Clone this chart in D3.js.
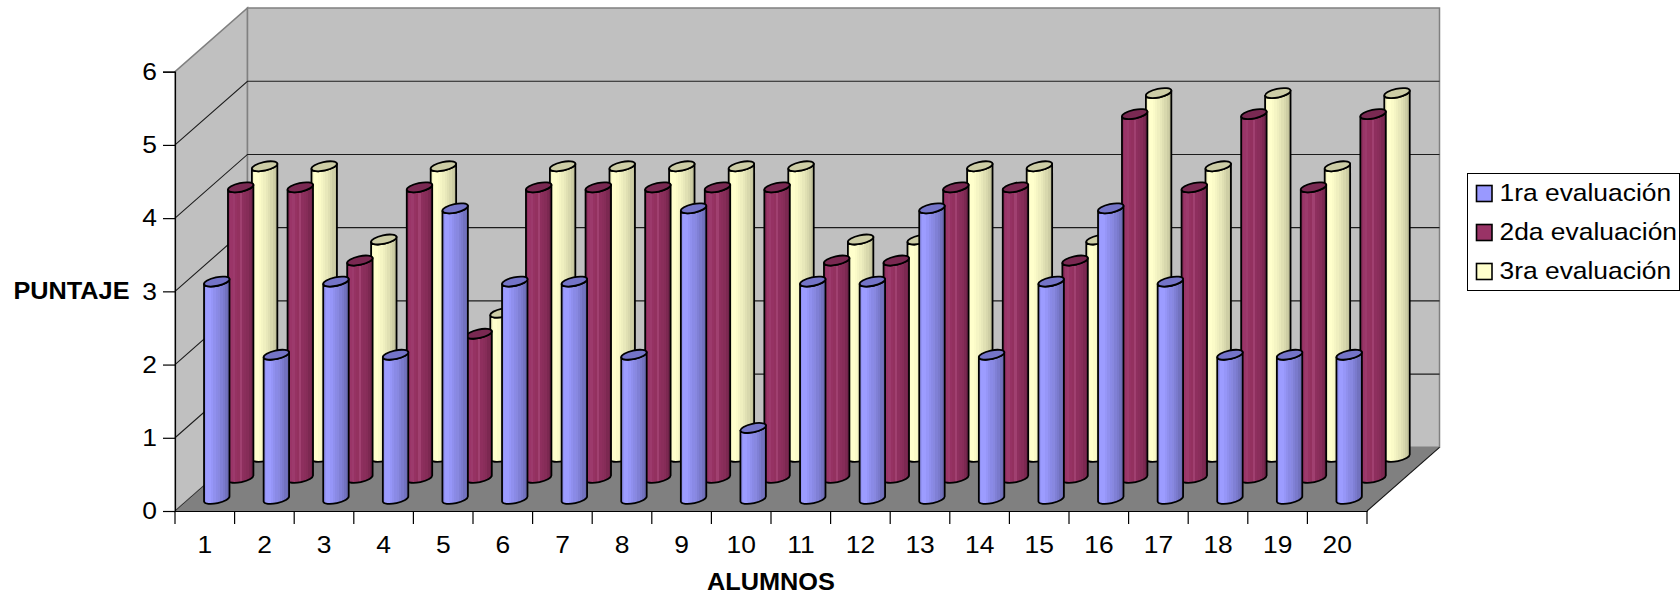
<!DOCTYPE html>
<html>
<head>
<meta charset="utf-8">
<script src="https://cdn.jsdelivr.net/npm/d3@7"></script>
<style>
html, body { margin: 0; padding: 0; background: #fff; }
svg { display: block; font-family: "Liberation Sans", Arial, sans-serif; }
</style>
</head>
<body>
<svg id="chart" width="1680" height="597"></svg>
<script>
const alumnos = d3.range(1, 21).map(String);
const primera = [3, 2, 3, 2, 4, 3, 3, 2, 4, 1, 3, 3, 4, 2, 3, 4, 3, 2, 2, 2];
const segunda = [4, 4, 3, 4, 2, 4, 4, 4, 4, 4, 3, 3, 4, 4, 3, 5, 4, 5, 4, 5];
const tercera = [4, 4, 3, 4, 2, 4, 4, 4, 4, 4, 3, 3, 4, 4, 3, 5, 4, 5, 4, 5];
const seriesNames = ["1ra evaluación", "2da evaluación", "3ra evaluación"];
const seriesValues = [primera, segunda, tercera];
const baseColors = ["#9999FF", "#993366", "#FFFFCC"];
const capColors = ["#7474c8", "#7a2952", "#cdcda6"];
const yTicks = [0, 1, 2, 3, 4, 5, 6];

const svg = d3.select("#chart");

// Oblique projection: front plane scales plus a depth offset
const x = d3.scaleBand().domain(alumnos).range([175, 1367]);
const y = d3.scaleLinear().domain([0, 6]).range([511, 71.7]);
const depthX = d3.scaleLinear().domain([0, 1]).range([0, 72.5]);
const depthY = d3.scaleLinear().domain([0, 1]).range([0, -63.7]);
const seriesDepth = d3.scaleLinear().domain([0, 2]).range([0.165, 0.825]);
const backX = depthX(1), backY = depthY(1);

// Cylinder shading in narrow vertical bands, one gradient per series
const defs = svg.append("defs");
const shades = [
  ["#9393f4", "#9c9cff", "#9c9cff", "#9696f8", "#9090ee", "#8a8ae6", "#8888e0", "#8080d6", "#7a7acc", "#7272bf", "#6c6cb4"],
  ["#8e2f5e", "#9a3568", "#9c3a6c", "#963263", "#93315f", "#a04070", "#8e2f5e", "#8a2e5b", "#862c58", "#7c2851", "#70244a"],
  ["#f4f4c2", "#ffffcc", "#ffffcc", "#fbfbc8", "#f5f5c4", "#efefbf", "#e8e8ba", "#e0e0b3", "#d8d8ad", "#ceceA5", "#c4c49c"]
];
shades.forEach((bands, i) => {
  const stops = bands.flatMap((c, k) => [[k / bands.length, c], [(k + 1) / bands.length, c]]);
  defs.append("linearGradient").attr("id", "cyl" + i)
    .selectAll("stop").data(stops).join("stop")
    .attr("offset", d => d[0]).attr("stop-color", d => d[1]);
});

// Walls and floor
const [x0, x1] = x.range();
const y0 = y(0), yTop = y(6);
const walls = svg.append("g");
walls.append("path")
  .attr("d", `M${x0},${y0}L${x0},${yTop}L${x0 + backX},${yTop + backY}L${x0 + backX},${y0 + backY}Z`)
  .attr("fill", "#C0C0C0").attr("stroke", "#808080").attr("stroke-width", 1.5);
walls.append("path")
  .attr("d", `M${x0 + backX},${y0 + backY}L${x0 + backX},${yTop + backY}L${x1 + backX},${yTop + backY}L${x1 + backX},${y0 + backY}Z`)
  .attr("fill", "#C0C0C0").attr("stroke", "#808080").attr("stroke-width", 1.5);
walls.append("path")
  .attr("d", `M${x0},${y0}L${x0 + backX},${y0 + backY}L${x1 + backX},${y0 + backY}L${x1},${y0}Z`)
  .attr("fill", "#808080").attr("stroke", "none");

// Gridlines run along the side wall and across the back wall
walls.selectAll("path.grid").data(yTicks.filter(v => v > 0 && v < 6)).join("path")
  .attr("class", "grid")
  .attr("d", v => `M${x0},${y(v)}L${x0 + backX},${y(v) + backY}L${x1 + backX},${y(v) + backY}`)
  .attr("fill", "none").attr("stroke", "#1c1c1c").attr("stroke-width", 1.1);
walls.append("path")
  .attr("d", `M${x1},${y0}L${x1 + backX},${y0 + backY}`)
  .attr("stroke", "#111").attr("stroke-width", 1.1).attr("fill", "none");
walls.append("path")
  .attr("d", `M${x0},${y0}L${x0 + backX},${y0 + backY}`)
  .attr("stroke", "#333").attr("stroke-width", 1).attr("fill", "none");

// Cylinders, rear series first so the front row overlaps it
const rx = 13, ry = 4.3, tilt = -12, baseLift = 1.6, capDrop = 0.7;
const bars = svg.append("g");
[2, 1, 0].forEach(s => {
  const d = seriesDepth(s);
  const rows = alumnos.map((a, i) => ({ a, v: seriesValues[s][i] }));
  const g = bars.append("g").selectAll("g").data(rows).join("g")
    .attr("transform", r => `translate(${x(r.a) + x.bandwidth() / 2 + depthX(d)},${depthY(d)})`);
  const dx = rx * Math.cos(tilt * Math.PI / 180);
  const dy = rx * Math.sin(tilt * Math.PI / 180);
  g.append("path")
    .attr("d", r => {
      const t = y(r.v) + capDrop, b = y(0) - baseLift;
      return `M${-dx},${t - dy}L${-dx},${b - dy}` +
        `A${rx},${ry} ${tilt} 0 0 ${dx},${b + dy}` +
        `L${dx},${t + dy}A${rx},${ry} ${tilt} 0 1 ${-dx},${t - dy}Z`;
    })
    .attr("fill", `url(#cyl${s})`).attr("stroke", "#000").attr("stroke-width", 1.8)
    .attr("stroke-linejoin", "round");
  g.append("ellipse")
    .attr("cy", r => y(r.v) + capDrop)
    .attr("rx", rx).attr("ry", ry)
    .attr("transform", r => `rotate(${tilt} 0 ${y(r.v) + capDrop})`)
    .attr("fill", capColors[s]).attr("stroke", "#000").attr("stroke-width", 1.8);
});

// The lettering is slightly wider than the regular face
const widen = 1.1;
const stretchAt = (sel, px) => sel.attr("transform", `translate(${px},0) scale(${widen},1) translate(${-px},0)`);

// Axes
const styleAxis = g => {
  g.selectAll("path.domain").attr("stroke", "#000").attr("stroke-width", 1.2);
  g.selectAll(".tick line").attr("stroke", "#000").attr("stroke-width", 1.2);
  g.selectAll("text").attr("fill", "#000").attr("font-size", 24)
    .attr("font-family", '"Liberation Sans", Arial, sans-serif');
};
const yAxis = svg.append("g")
  .attr("transform", `translate(${x0},0)`)
  .call(d3.axisLeft(y).tickValues(yTicks).tickFormat(d3.format("d")).tickSize(12).tickPadding(6))
  .call(styleAxis);
yAxis.selectAll(".tick text").each(function () { stretchAt(d3.select(this), -18); });

const xAxis = svg.append("g").attr("transform", `translate(0,${y0})`)
  .call(d3.axisBottom(x).tickSize(0).tickPadding(0));
xAxis.call(styleAxis);
xAxis.selectAll(".tick text").attr("y", 42).attr("dy", 0)
  .each(function () { stretchAt(d3.select(this), -1); });
xAxis.selectAll("line.sep").data(d3.range(0, alumnos.length + 1)).join("line")
  .attr("class", "sep")
  .attr("x1", i => x0 + i * x.step()).attr("x2", i => x0 + i * x.step())
  .attr("y1", 0).attr("y2", 13)
  .attr("stroke", "#000").attr("stroke-width", 1.2);

// Axis titles
stretchAt(svg.append("text").attr("x", 71.5).attr("y", 299.5).attr("text-anchor", "middle")
  .attr("font-size", 23).attr("font-weight", "bold").text("PUNTAJE"), 71.5);
stretchAt(svg.append("text").attr("x", 771).attr("y", 590).attr("text-anchor", "middle")
  .attr("font-size", 23).attr("font-weight", "bold").text("ALUMNOS"), 771);

// Legend
const legend = svg.append("g").attr("transform", "translate(1467.5,173.5)");
legend.append("rect").attr("width", 212).attr("height", 117)
  .attr("fill", "#fff").attr("stroke", "#000").attr("stroke-width", 1);
const item = legend.selectAll("g").data(seriesNames).join("g")
  .attr("transform", (d, i) => `translate(0,${i * 39})`);
item.append("rect").attr("x", 9).attr("y", 12).attr("width", 15.5).attr("height", 16)
  .attr("fill", (d, i) => baseColors[i]).attr("stroke", "#000").attr("stroke-width", 1.6);
item.append("text").attr("x", 32).attr("y", 27.5).attr("font-size", 24).attr("fill", "#000").text(d => d)
  .each(function () { stretchAt(d3.select(this), 32); });
</script>
</body>
</html>
